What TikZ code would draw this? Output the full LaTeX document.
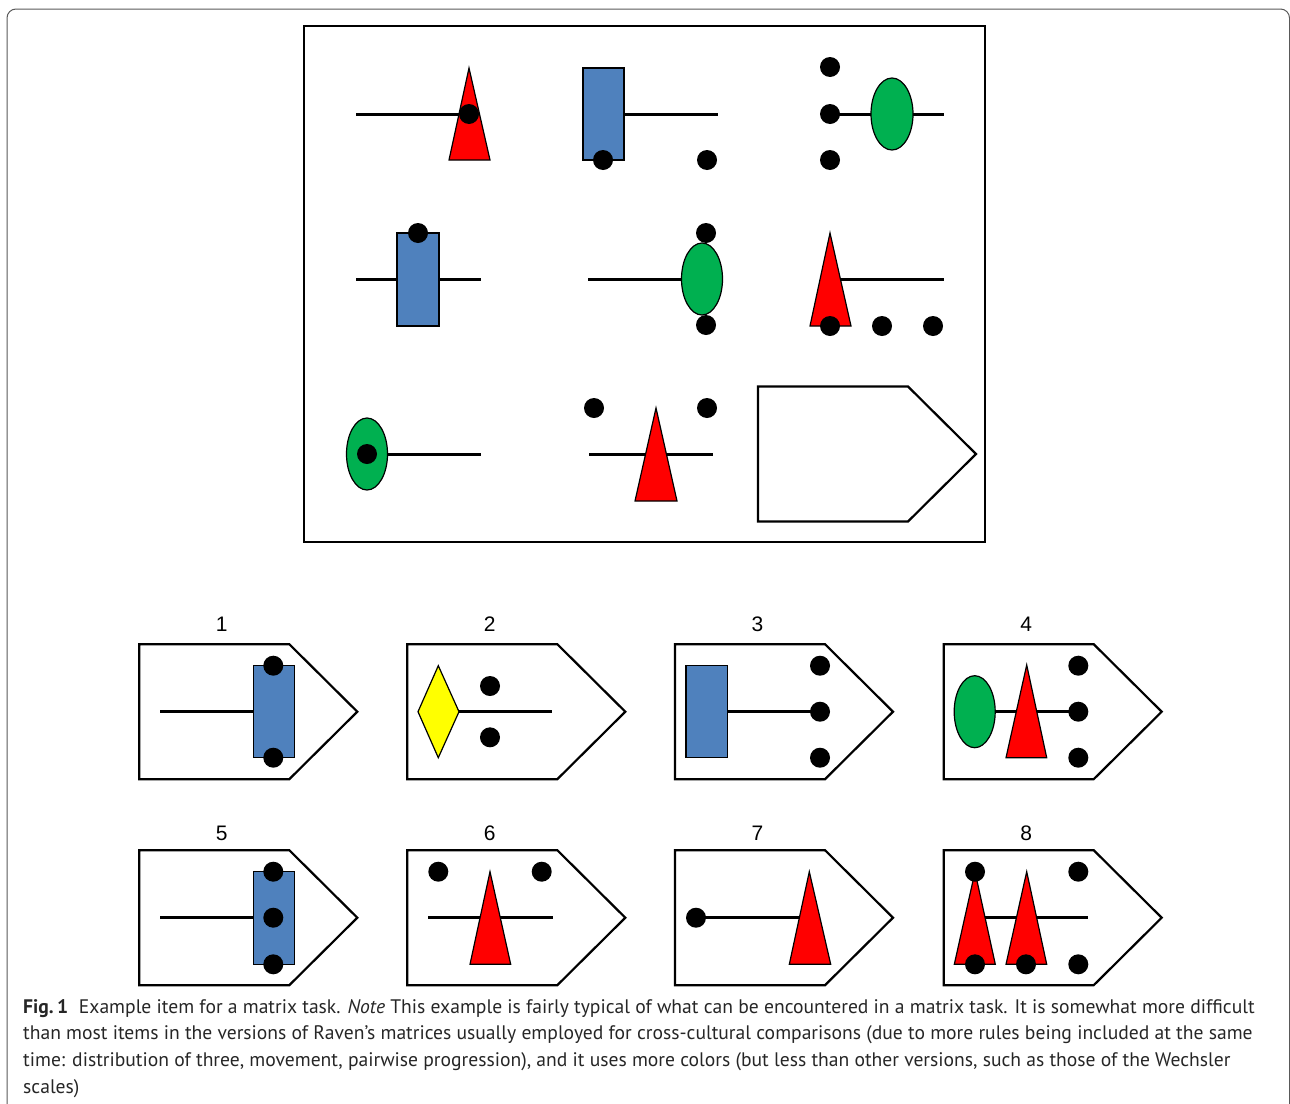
\documentclass[tikz,border=0pt]{standalone}
\usepackage{fontspec}
\setmainfont{PT Sans}
\newfontfamily\digitfont{Liberation Sans}

\definecolor{shapered}{HTML}{FF0000}
\definecolor{shapeblue}{HTML}{4F81BD}
\definecolor{shapegreen}{HTML}{00B050}
\definecolor{shapeyellow}{HTML}{FFFF00}

\tikzset{
    stick/.style={line width=3pt},
    piece/.style={draw=black, line width=1.2pt},
    choice/.pic={
        \draw[line width=2.2pt] (0,-67.5) -- (150,-67.5) -- (218,0) -- (150,67.5) -- (0,67.5) -- cycle;
    },
    numlabel/.style={font=\digitfont\fontsize{21}{21}\selectfont, anchor=base, inner sep=0pt},
    capline/.style={font=\fontsize{19.6}{19.6}\selectfont, anchor=base west, inner sep=0pt, text=black!85}
}

\begin{document}
\begin{tikzpicture}[x=1pt, y=-1pt]
        \useasboundingbox (0,0) rectangle (1290,1103);
        \draw[black!65, line width=1pt, rounded corners=9pt] (7,9) rectangle (1289.5,1150);

        % the matrix
        \draw[line width=2.4pt] (304,26) rectangle (985,542);

        % row 1
        \draw[stick] (356,114) -- (469,114);
        \path[piece, fill=shapered] (469,68) -- (490,160) -- (449,160) -- cycle;
        \fill (469,114) circle (10);

        \draw[stick] (624,114) -- (718,114);
        \path[piece, fill=shapeblue] (583,68) rectangle (624,160);
        \fill (603,160) circle (10) (707,160) circle (10);

        \draw[stick] (830,114) -- (944,114);
        \path[piece, fill=shapegreen] (892,114) ellipse [x radius=21, y radius=36];
        \foreach \y in {67,114,160} \fill (830,\y) circle (10);

        % row 2
        \draw[stick] (356,279) -- (481,279);
        \path[piece, fill=shapeblue] (397,233) rectangle (439,326);
        \fill (418,233) circle (10);

        \draw[stick] (588,279) -- (702,279);
        \path[piece, fill=shapegreen] (702,279) ellipse [x radius=20.5, y radius=36];
        \fill (706,233) circle (10) (706,325) circle (10);

        \draw[stick] (840,279) -- (944,279);
        \path[piece, fill=shapered] (830,233) -- (851,326) -- (810,326) -- cycle;
        \foreach \x in {830,882,933} \fill (\x,326) circle (10);

        % row 3
        \draw[stick] (367,454) -- (481,454);
        \path[piece, fill=shapegreen] (367,454) ellipse [x radius=20.5, y radius=36];
        \fill (367,454) circle (10);

        \draw[stick] (589,454) -- (713,454);
        \path[piece, fill=shapered] (656,408) -- (677,501) -- (635,501) -- cycle;
        \fill (594,408) circle (10) (707,408) circle (10);

        \pic at (758,454) {choice};

        % answer options
        \foreach \n/\x in {1/139.3, 2/407.3, 3/675, 4/943.7} {
            \pic at (\x,711.7) {choice};
            \node[numlabel] (num\n) at (\x+82.5,631.5) {\n};
        }
        \foreach \n/\x in {5/139.3, 6/407.3, 7/675, 8/943.7} {
            \pic at (\x,917.7) {choice};
            \node[numlabel] (num\n) at (\x+82.5,840) {\n};
        }

        % option 1
        \draw[stick] (160,711.7) -- (253,711.7);
        \path[piece, fill=shapeblue] (253.3,665.7) rectangle (294.3,757.7);
        \fill (273.3,665.7) circle (10) (273.3,757.7) circle (10);

        % option 2
        \draw[stick] (459,711.7) -- (551.7,711.7);
        \path[piece, fill=shapeyellow] (418,711.7) -- (438.3,665.7) -- (459,711.7) -- (438.3,757.7) -- cycle;
        \fill (490,686) circle (10) (490,737.3) circle (10);

        % option 3
        \draw[stick] (727.7,711.7) -- (820,711.7);
        \path[piece, fill=shapeblue] (686,665.7) rectangle (727.7,757.7);
        \foreach \y in {665.7,711.7,757.7} \fill (820,\y) circle (10);

        % option 4
        \draw[stick] (995,711.7) -- (1078.3,711.7);
        \path[piece, fill=shapegreen] (974.7,711.7) ellipse [x radius=20.5, y radius=36];
        \path[piece, fill=shapered] (1026.7,665) -- (1046.7,757.7) -- (1006,757.7) -- cycle;
        \foreach \y in {665.7,711.7,757.7} \fill (1078.3,\y) circle (10);

        % option 5
        \draw[stick] (160,917.7) -- (253,917.7);
        \path[piece, fill=shapeblue] (253.3,871.7) rectangle (294.3,964.3);
        \foreach \y in {871.7,917.7,964.3} \fill (273.3,\y) circle (10);

        % option 6
        \draw[stick] (428.3,917.7) -- (552.7,917.7);
        \path[piece, fill=shapered] (490,871.7) -- (510.7,964.3) -- (470,964.3) -- cycle;
        \fill (438.3,871.7) circle (10) (541.7,871.7) circle (10);

        % option 7
        \draw[stick] (696,917.7) -- (800,917.7);
        \path[piece, fill=shapered] (809.3,871.7) -- (830.7,964.3) -- (789.3,964.3) -- cycle;
        \fill (696,917.7) circle (10);

        % option 8
        \draw[stick] (975,917.7) -- (1088.3,917.7);
        \path[piece, fill=shapered] (975,871.7) -- (995.3,964.3) -- (954.3,964.3) -- cycle;
        \path[piece, fill=shapered] (1026.7,871.7) -- (1046.7,964.3) -- (1006,964.3) -- cycle;
        \fill (975,871.7) circle (10) (1078.3,871.7) circle (10);
        \foreach \x in {975,1026,1078.3} \fill (\x,964.3) circle (10);

        % caption
        \node[capline] (cap1) at (23,1013) {\textbf{Fig.\,1}\hspace{0.55em}Example item for a matrix task. \textit{Note} This example is fairly typical of what can be encountered in a matrix task. It is somewhat more difficult};
        \node[capline] (cap2) at (23,1039.7) {than most items in the versions of Raven’s matrices usually employed for cross-cultural comparisons (due to more rules being included at the same};
        \node[capline] (cap3) at (23,1066.4) {time: distribution of three, movement, pairwise progression), and it uses more colors (but less than other versions, such as those of the Wechsler};
        \node[capline] (cap4) at (23,1093.1) {scales)};
\end{tikzpicture}
\end{document}
